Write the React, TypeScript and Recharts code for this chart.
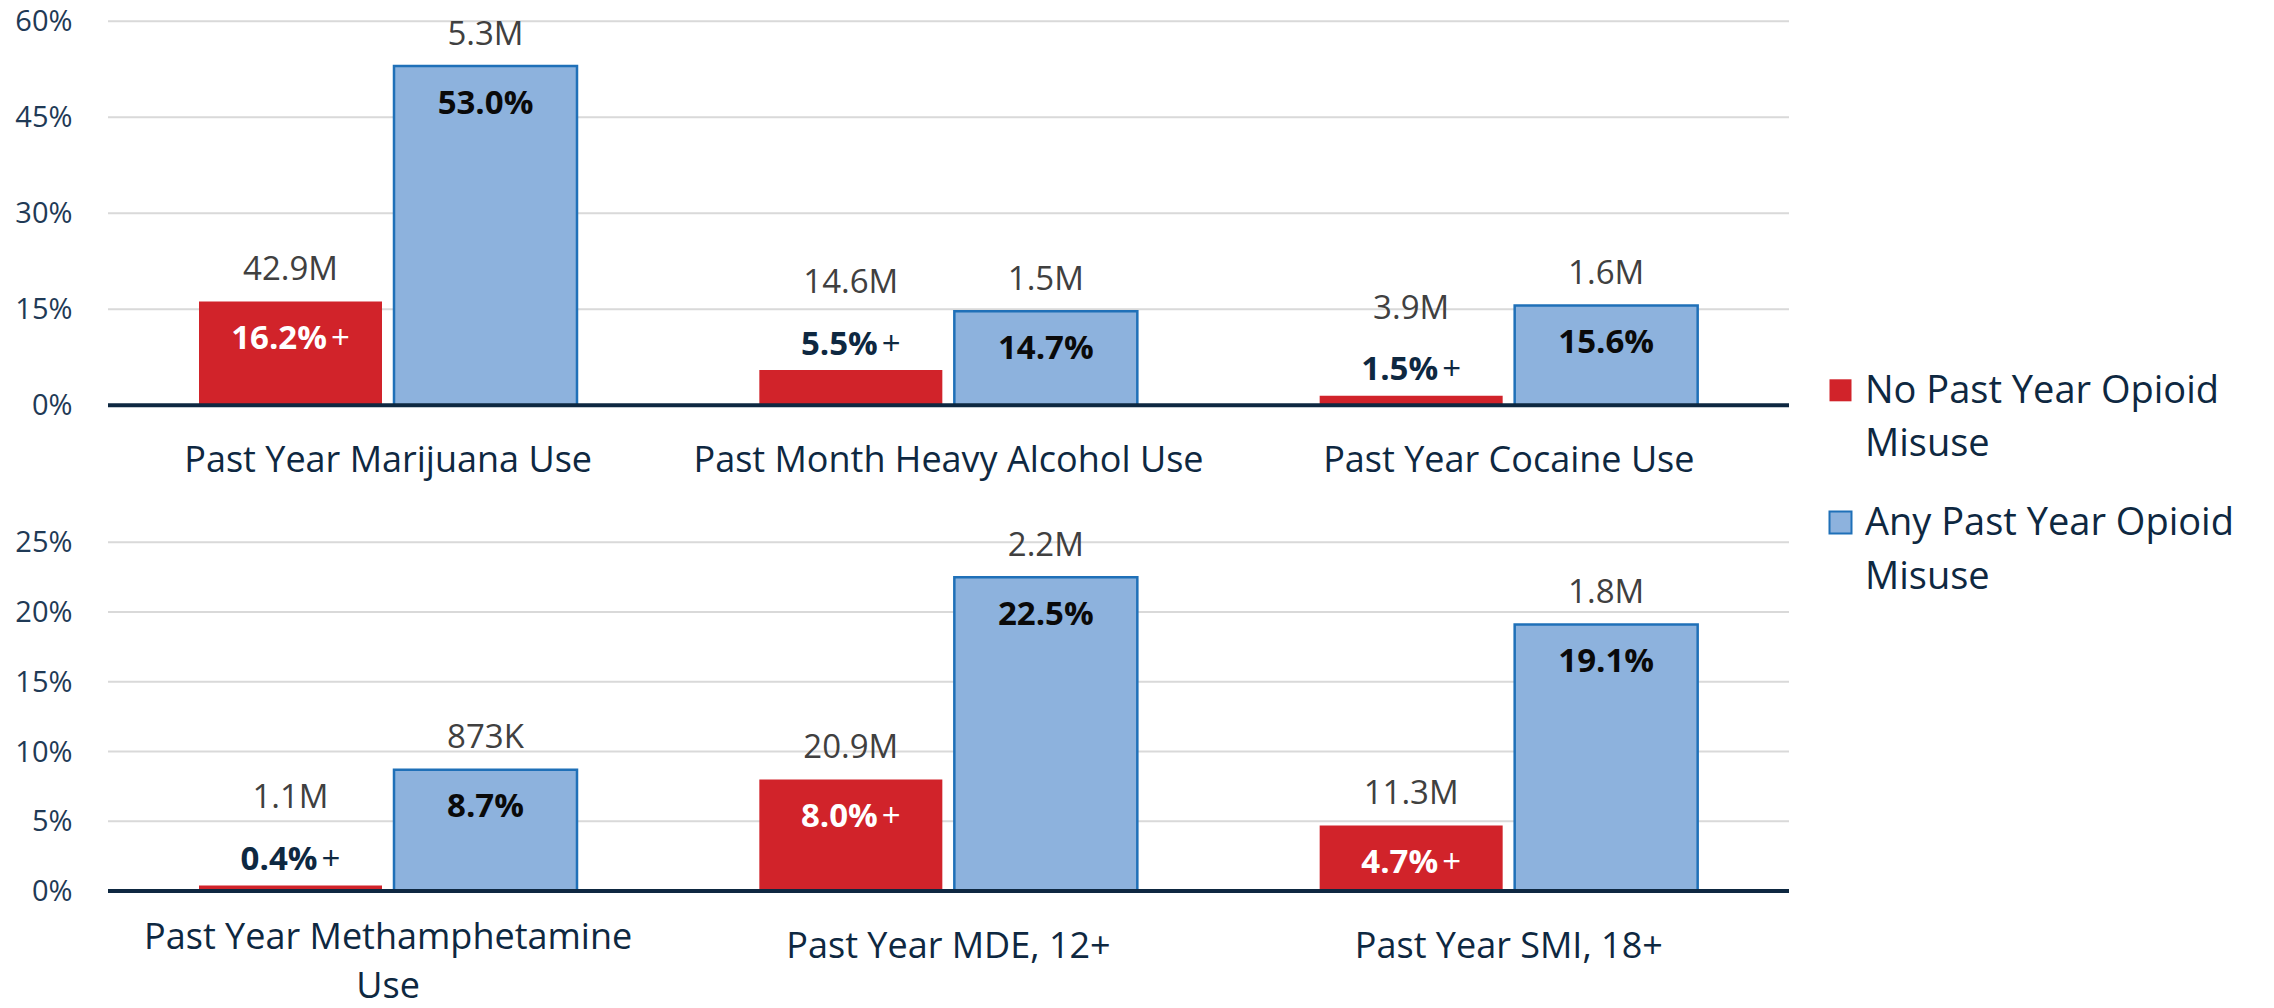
import React from 'react';
import { BarChart, Bar, XAxis, YAxis, CartesianGrid, LabelList } from 'recharts';

// ---------- data ----------
const topCategories = ['Past Year Marijuana Use', 'Past Month Heavy Alcohol Use', 'Past Year Cocaine Use'];
const topNoMisusePct = [16.2, 5.5, 1.5];
const topAnyMisusePct = [53.0, 14.7, 15.6];
const topNoMisuseCount = ['42.9M', '14.6M', '3.9M'];
const topAnyMisuseCount = ['5.3M', '1.5M', '1.6M'];
const topYTicks = [0, 15, 30, 45, 60];

const bottomCategories = ['Past Year Methamphetamine Use', 'Past Year MDE, 12+', 'Past Year SMI, 18+'];
const bottomNoMisusePct = [0.4, 8.0, 4.7];
const bottomAnyMisusePct = [8.7, 22.5, 19.1];
const bottomNoMisuseCount = ['1.1M', '20.9M', '11.3M'];
const bottomAnyMisuseCount = ['873K', '2.2M', '1.8M'];
const bottomYTicks = [0, 5, 10, 15, 20, 25];

const seriesNames = ['No Past Year Opioid Misuse', 'Any Past Year Opioid Misuse'];
const significanceMark = '+';

// ---------- style ----------
const FONT = '"Open Sans", "Noto Sans", sans-serif';
const NAVY = '#0e2841';
const TICK = '#1f3a56';
const RED = '#d1232a';
const BLUE = '#8db2dd';
const BLUE_EDGE = '#1f70b8';
const GRID = '#d9d9d9';
const COUNT = '#404040';

type Row = { category: string; noPct: number; anyPct: number; noCount: string; anyCount: string };

const buildRows = (cats: string[], noPct: number[], anyPct: number[], noCount: string[], anyCount: string[]): Row[] =>
  cats.map((c, i) => ({ category: c, noPct: noPct[i], anyPct: anyPct[i], noCount: noCount[i], anyCount: anyCount[i] }));

const topRows = buildRows(topCategories, topNoMisusePct, topAnyMisusePct, topNoMisuseCount, topAnyMisuseCount);
const bottomRows = buildRows(bottomCategories, bottomNoMisusePct, bottomAnyMisusePct, bottomNoMisuseCount, bottomAnyMisuseCount);

const wrapWords = (text: string, maxChars: number): string[] => {
  const words = text.split(' ');
  const lines: string[] = [];
  let cur = '';
  words.forEach((w) => {
    const next = cur ? cur + ' ' + w : w;
    if (next.length > maxChars && cur) {
      lines.push(cur);
      cur = w;
    } else cur = next;
  });
  if (cur) lines.push(cur);
  return lines;
};

const makeBarLabel = (series: 'no' | 'any', rows: Row[]) => (props: any) => {
  const vb = props.viewBox || {};
  const x = props.x ?? vb.x;
  const y = props.y ?? vb.y;
  const width = props.width ?? vb.width;
  const height = props.height ?? vb.height;
  const row = rows[props.index];
  if (!row) return null;
  const pct = series === 'no' ? row.noPct : row.anyPct;
  const count = series === 'no' ? row.noCount : row.anyCount;
  const cx = x + width / 2;
  const outside = Math.abs(height) < 50;
  const pctFill = series === 'no' ? (outside ? NAVY : '#ffffff') : '#0a0a0a';
  const pctBaseline = outside ? y - 15.5 : y + 47.5;
  const countBaseline = outside ? y - 77 : y - 21.5;
  return (
    <g>
      <text x={cx} y={countBaseline} textAnchor="middle" fill={COUNT} fontSize={33} fontFamily={FONT}>
        {count}
      </text>
      <text x={cx} y={pctBaseline} textAnchor="middle" fill={pctFill} fontSize={33} fontWeight={700} fontFamily={FONT}>
        {`${pct.toFixed(1)}%`}
        {series === 'no' ? (
          <tspan dx={4} fontWeight={400}>
            {significanceMark}
          </tspan>
        ) : null}
      </text>
    </g>
  );
};

const CategoryTick = (props: any) => {
  const { x, y, payload } = props;
  const lines = wrapWords(String(payload.value), 28);
  const firstBaseline = lines.length > 1 ? y + 57.5 : y + 66.7;
  return (
    <text x={x} y={firstBaseline} textAnchor="middle" fill={NAVY} fontSize={36} fontFamily={FONT}>
      {lines.map((l, i) => (
        <tspan key={i} x={x} dy={i === 0 ? 0 : 49.5}>
          {l}
        </tspan>
      ))}
    </text>
  );
};

const ValueTick = (props: any) => {
  const { x, y, payload } = props;
  return (
    <text x={x} y={y + 10} textAnchor="end" fill={TICK} fontSize={29} fontFamily={FONT}>
      {`${payload.value}%`}
    </text>
  );
};

type PanelProps = {
  rows: Row[];
  ticks: number[];
  height: number;
  marginTop: number;
  marginBottom: number;
};

const Panel = ({ rows, ticks, height, marginTop, marginBottom }: PanelProps) => (
  <BarChart
    width={1800}
    height={height}
    data={rows}
    margin={{ top: marginTop, right: 11, bottom: marginBottom, left: 0 }}
    barSize={183}
    barGap={12}
  >
    <CartesianGrid vertical={false} stroke={GRID} strokeWidth={2} />
    <XAxis
      dataKey="category"
      height={60}
      tickLine={false}
      tickSize={0}
      tickMargin={0}
      axisLine={{ stroke: NAVY, strokeWidth: 4 }}
      tick={<CategoryTick />}
      interval={0}
    />
    <YAxis
      width={108}
      domain={[ticks[0], ticks[ticks.length - 1]]}
      ticks={ticks}
      axisLine={false}
      tickLine={false}
      tickSize={0}
      tickMargin={35.5}
      tick={<ValueTick />}
    />
    <Bar dataKey="noPct" name={seriesNames[0]} fill={RED} isAnimationActive={false}>
      <LabelList dataKey="noPct" content={makeBarLabel('no', rows)} />
    </Bar>
    <Bar dataKey="anyPct" name={seriesNames[1]} fill={BLUE} stroke={BLUE_EDGE} strokeWidth={2.5} isAnimationActive={false}>
      <LabelList dataKey="anyPct" content={makeBarLabel('any', rows)} />
    </Bar>
  </BarChart>
);

const LegendBlock = () => {
  const entries = [
    { name: seriesNames[0], fill: RED, stroke: 'none', top: 378.3 },
    { name: seriesNames[1], fill: BLUE, stroke: BLUE_EDGE, top: 510.5 },
  ];
  return (
    <svg width={474} height={300} style={{ position: 'absolute', left: 1800, top: 330 }}>
      {entries.map((e, i) => {
        const t = e.top - 330;
        const lines = wrapWords(e.name, 20);
        return (
          <g key={i}>
            <rect x={29.5} y={t + 1} width={22} height={22} fill={e.fill} stroke={e.stroke} strokeWidth={2} />
            <text x={65} y={t + 24.7} fill={NAVY} fontSize={38} fontFamily={FONT}>
              {lines.map((l, j) => (
                <tspan key={j} x={65} dy={j === 0 ? 0 : 53.3}>
                  {l}
                </tspan>
              ))}
            </text>
          </g>
        );
      })}
    </svg>
  );
};

export default function App() {
  return (
    <div
      style={{
        position: 'absolute',
        left: 0,
        top: 0,
        width: 2274,
        height: 1008,
        background: '#ffffff',
        fontFamily: FONT,
        overflow: 'hidden',
      }}
    >
      <div style={{ position: 'absolute', left: 0, top: 0 }}>
        <Panel rows={topRows} ticks={topYTicks} height={520} marginTop={21.3} marginBottom={54.7} />
      </div>
      <div style={{ position: 'absolute', left: 0, top: 500 }}>
        <Panel rows={bottomRows} ticks={bottomYTicks} height={508} marginTop={42.3} marginBottom={57} />
      </div>
      <LegendBlock />
    </div>
  );
}
